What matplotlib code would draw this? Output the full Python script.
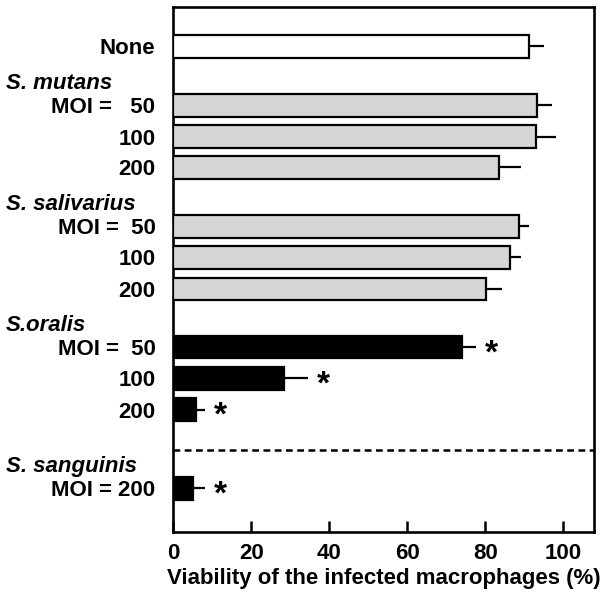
import numpy as np
import matplotlib.pyplot as plt

plt.rcParams['font.family'] = ['Liberation Sans', 'DejaVu Sans']
plt.rcParams['font.weight'] = 'bold'

# data
bar_labels = ["None", "MOI =   50", "100", "200",
              "MOI =  50", "100", "200",
              "MOI =  50", "100", "200",
              "MOI = 200"]
viability = [91.2, 93.3, 92.9, 83.5, 88.7, 86.4, 80.1, 73.9, 28.3, 5.8, 5.0]
sd = [3.8, 3.7, 5.1, 5.5, 2.5, 2.7, 4.1, 3.6, 6.1, 2.3, 3.1]
significant = [False, False, False, False, False, False, False, True, True, True, True]
bar_kind = ["none", "gray", "gray", "gray", "gray", "gray", "gray",
            "black", "black", "black", "black"]
group_names = ["S. mutans", "S. salivarius", "S.oralis", "S. sanguinis"]
group_first = [1, 4, 7, 10]          # index of first bar in each group
x_ticks = [0, 20, 40, 60, 80, 100]
x_label = "Viability of the infected macrophages (%)"

# layout: vertical slot of each bar (row units)
slots = [0, 1.88, 2.88, 3.86, 5.74, 6.74, 7.75, 9.6, 10.6, 11.6, 14.11]
divider_y = 12.89
fills = {"none": "white", "gray": "#d6d6d6", "black": "black"}
fs = 16

fig = plt.figure(figsize=(6.06, 5.99), dpi=100)
ax = fig.add_axes([0.2863, 0.1119, 0.6931, 0.8765])

ax.barh(slots, viability, height=0.73, color=[fills[k] for k in bar_kind],
        edgecolor="black", linewidth=1.6, zorder=3)
ax.errorbar(viability, slots, xerr=[np.zeros(len(sd)), sd], fmt="none",
            ecolor="black", elinewidth=1.6, capsize=0, zorder=2)

for y, v, e, s in zip(slots, viability, sd, significant):
    if s:
        ax.text(v + e + 4, y + 0.22, "*", ha="center", va="center",
                fontsize=24, fontweight="bold")

ax.axhline(divider_y, color="black", linewidth=1.8, dashes=(2.7, 1.8))

ax.set_xlim(0, 107.7)
ax.set_ylim(15.51, -1.26)

ax.set_xticks(x_ticks)
ax.set_xticklabels([str(t) for t in x_ticks])
ax.tick_params(axis="x", direction="in", length=8, width=1.8, labelsize=fs, pad=8)
ax.set_yticks(slots)
ax.set_yticklabels(bar_labels)
ax.tick_params(axis="y", length=0, labelsize=fs, pad=13)
ax.set_xlabel(x_label, fontsize=fs, fontweight="bold", labelpad=3)

for sp in ax.spines.values():
    sp.set_linewidth(1.9)

# group headers, left aligned near the figure edge
for name, idx in zip(group_names, group_first):
    y_disp = ax.transData.transform((0, slots[idx] - 0.7))[1]
    y_fig = fig.transFigure.inverted().transform((0, y_disp))[1]
    fig.text(0.01, y_fig, name, ha="left", va="center", fontsize=fs,
             fontweight="bold", fontstyle="italic")

fig.savefig("out.png", dpi=100)
